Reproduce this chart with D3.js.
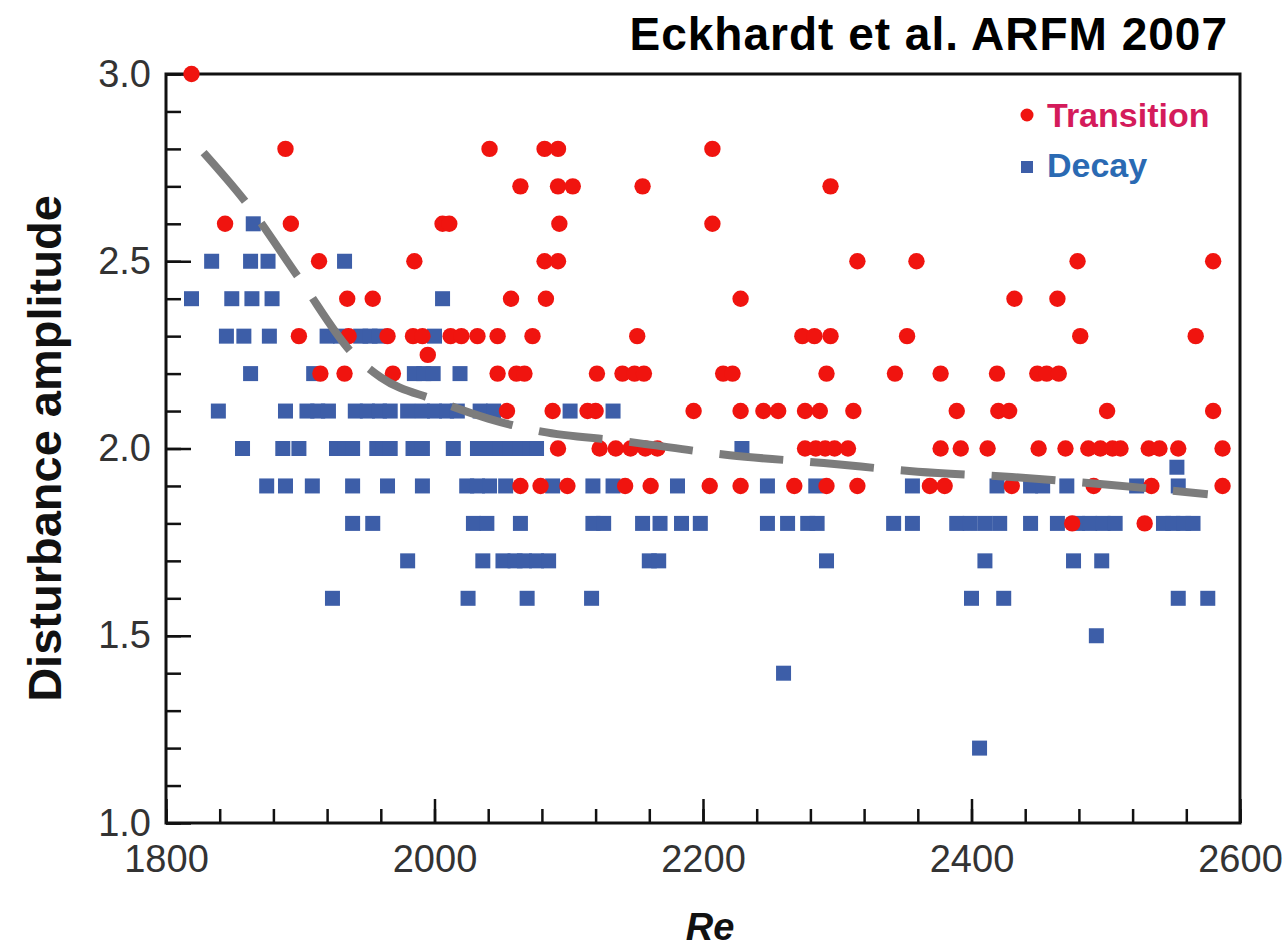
<!DOCTYPE html>
<html>
<head>
<meta charset="utf-8">
<script src="https://cdnjs.cloudflare.com/ajax/libs/d3/7.8.5/d3.min.js"></script>
<style>
  body { margin: 0; background: #fff; }
  svg { font-family: "Liberation Sans", Arial, Helvetica, sans-serif; }
</style>
</head>
<body>
<div id="chart"></div>
<script>
// points: [Re, disturbance amplitude]
var transition = [
  [1819,3.0],
  [1889,2.8],[2041,2.8],[2082,2.8],[2092,2.8],[2207,2.8],
  [2064,2.7],[2092,2.7],[2103,2.7],[2155,2.7],[2295,2.7],
  [1844,2.6],[1893,2.6],[2006,2.6],[2011,2.6],[2093,2.6],[2207,2.6],
  [1914,2.5],[1985,2.5],[2082,2.5],[2092,2.5],[2315,2.5],[2359,2.5],[2479,2.5],[2580,2.5],
  [1935,2.4],[1954,2.4],[2057,2.4],[2083,2.4],[2228,2.4],[2432,2.4],[2464,2.4],
  [1899,2.3],[1936,2.3],[1965,2.3],[1984,2.3],[1991,2.3],[2012,2.3],[2020,2.3],[2032,2.3],[2047,2.3],
  [2073,2.3],[2151,2.3],[2274,2.3],[2283,2.3],[2295,2.3],[2352,2.3],[2481,2.3],[2567,2.3],
  [1995,2.25],
  [1915,2.2],[1933,2.2],[1969,2.2],[2047,2.2],[2061,2.2],[2067,2.2],[2121,2.2],[2140,2.2],[2149,2.2],
  [2156,2.2],[2215,2.2],[2222,2.2],[2292,2.2],[2343,2.2],[2377,2.2],[2419,2.2],[2449,2.2],[2456,2.2],[2465,2.2],
  [2054,2.1],[2088,2.1],[2114,2.1],[2120,2.1],[2193,2.1],[2228,2.1],[2245,2.1],[2256,2.1],[2276,2.1],
  [2287,2.1],[2312,2.1],[2389,2.1],[2420,2.1],[2428,2.1],[2501,2.1],[2580,2.1],
  [2092,2.0],[2123,2.0],[2135,2.0],[2146,2.0],[2157,2.0],[2166,2.0],[2276,2.0],[2284,2.0],[2291,2.0],
  [2298,2.0],[2308,2.0],[2377,2.0],[2392,2.0],[2412,2.0],[2450,2.0],[2470,2.0],[2487,2.0],[2496,2.0],
  [2505,2.0],[2511,2.0],[2532,2.0],[2540,2.0],[2554,2.0],[2587,2.0],
  [2064,1.9],[2079,1.9],[2099,1.9],[2142,1.9],[2161,1.9],[2205,1.9],[2228,1.9],[2268,1.9],[2292,1.9],
  [2315,1.9],[2369,1.9],[2380,1.9],[2430,1.9],[2491,1.9],[2534,1.9],[2587,1.9],
  [2475,1.8],[2529,1.8]
];

var decay = [
  [1865,2.6],
  [1834,2.5],[1863,2.5],[1876,2.5],[1933,2.5],
  [1819,2.4],[1849,2.4],[1864,2.4],[1879,2.4],[2006,2.4],
  [1845,2.3],[1858,2.3],[1877,2.3],[1920,2.3],[1930,2.3],[1945,2.3],[1952,2.3],[1959,2.3],[2000,2.3],
  [1863,2.2],[1910,2.2],[1985,2.2],[1992,2.2],[1999,2.2],[2019,2.2],
  [1839,2.1],[1889,2.1],[1905,2.1],[1913,2.1],[1921,2.1],[1941,2.1],[1950,2.1],[1959,2.1],[1967,2.1],
  [1980,2.1],[1991,2.1],[2000,2.1],[2009,2.1],[2017,2.1],[2034,2.1],[2044,2.1],[2101,2.1],[2133,2.1],
  [1857,2.0],[1887,2.0],[1899,2.0],[1927,2.0],[1933,2.0],[1939,2.0],[1957,2.0],[1962,2.0],[1967,2.0],
  [1984,2.0],[1991,2.0],[2014,2.0],[2032,2.0],[2041,2.0],[2049,2.0],[2056,2.0],[2064,2.0],[2071,2.0],
  [2076,2.0],[2229,2.0],
  [2553,1.95],
  [1875,1.9],[1889,1.9],[1909,1.9],[1939,1.9],[1965,1.9],[1991,1.9],[2024,1.9],[2032,1.9],[2041,1.9],
  [2053,1.9],[2088,1.9],[2118,1.9],[2133,1.9],[2181,1.9],[2248,1.9],[2284,1.9],[2356,1.9],[2419,1.9],
  [2444,1.9],[2453,1.9],[2471,1.9],[2523,1.9],[2554,1.9],
  [1939,1.8],[1954,1.8],[2029,1.8],[2039,1.8],[2064,1.8],[2118,1.8],[2126,1.8],[2155,1.8],[2168,1.8],
  [2184,1.8],[2198,1.8],[2248,1.8],[2263,1.8],[2278,1.8],[2285,1.8],[2342,1.8],[2356,1.8],[2389,1.8],
  [2399,1.8],[2410,1.8],[2421,1.8],[2444,1.8],[2464,1.8],[2479,1.8],[2488,1.8],[2498,1.8],[2507,1.8],
  [2543,1.8],[2550,1.8],[2558,1.8],[2565,1.8],
  [1980,1.7],[2036,1.7],[2051,1.7],[2060,1.7],[2067,1.7],[2076,1.7],[2085,1.7],[2160,1.7],[2167,1.7],
  [2292,1.7],[2410,1.7],[2476,1.7],[2497,1.7],
  [1924,1.6],[2025,1.6],[2069,1.6],[2117,1.6],[2400,1.6],[2424,1.6],[2554,1.6],[2576,1.6],
  [2493,1.5],
  [2260,1.4],
  [2406,1.2]
];

// dashed threshold curve
var thresholdRe  = [1828, 1860, 1900, 1940, 1960, 2000, 2040, 2080, 2140, 2220, 2290, 2360, 2430, 2500, 2576];
var thresholdAmp = [2.79, 2.655, 2.45, 2.25, 2.19, 2.13, 2.08, 2.045, 2.02, 1.982, 1.961, 1.938, 1.924, 1.904, 1.878];

var xMajor = [1800, 2000, 2200, 2400, 2600];
var yMajor = [1.0, 1.5, 2.0, 2.5, 3.0];

var width = 1288, height = 950;
var plotLeft = 166, plotRight = 1240, plotTop = 74, plotBottom = 823;

var svg = d3.select('#chart').append('svg')
  .attr('width', width)
  .attr('height', height);

var x = d3.scaleLinear().domain([1800, 2600]).range([plotLeft, plotRight]);
var y = d3.scaleLinear().domain([1.0, 3.0]).range([plotBottom, plotTop]);

// minor ticks
svg.append('g')
  .attr('transform', 'translate(0,' + plotBottom + ')')
  .call(d3.axisBottom(x).tickValues(d3.range(1800, 2601, 40)).tickSize(-14).tickSizeOuter(0).tickFormat(''))
  .call(function(g) { g.select('.domain').remove(); });
svg.append('g')
  .attr('transform', 'translate(' + plotLeft + ',0)')
  .call(d3.axisLeft(y).tickValues(d3.range(10, 31).map(function(d) { return d / 10; })).tickSize(-15).tickSizeOuter(0).tickFormat(''))
  .call(function(g) { g.select('.domain').remove(); });

// major ticks with labels
var xAxis = svg.append('g')
  .attr('transform', 'translate(0,' + plotBottom + ')')
  .call(d3.axisBottom(x).tickValues(xMajor).tickSize(-24).tickSizeOuter(0).tickPadding(22).tickFormat(d3.format('d')));
var yAxis = svg.append('g')
  .attr('transform', 'translate(' + plotLeft + ',0)')
  .call(d3.axisLeft(y).tickValues(yMajor).tickSize(-25).tickSizeOuter(0).tickPadding(15).tickFormat(d3.format('.1f')));

[xAxis, yAxis].forEach(function(g) {
  g.select('.domain').remove();
  g.selectAll('text').attr('font-size', 38).attr('fill', '#333').attr('font-family', '"Liberation Sans", Arial, sans-serif');
});
svg.selectAll('.tick line').attr('stroke', '#111').attr('stroke-width', 2.5);

// frame
svg.append('rect')
  .attr('x', plotLeft).attr('y', plotTop)
  .attr('width', plotRight - plotLeft).attr('height', plotBottom - plotTop)
  .attr('fill', 'none').attr('stroke', '#111').attr('stroke-width', 3);

// points
svg.append('g').selectAll('rect')
  .data(decay)
  .enter().append('rect')
  .attr('x', function(d) { return x(d[0]) - 7.5; })
  .attr('y', function(d) { return y(d[1]) - 7.5; })
  .attr('width', 15).attr('height', 15)
  .attr('fill', '#3d5ea8');

svg.append('g').selectAll('circle')
  .data(transition)
  .enter().append('circle')
  .attr('cx', function(d) { return x(d[0]); })
  .attr('cy', function(d) { return y(d[1]); })
  .attr('r', 8.2)
  .attr('fill', '#f0140f');

// dashed curve
var line = d3.line()
  .x(function(d, i) { return x(thresholdRe[i]); })
  .y(function(d) { return y(d); })
  .curve(d3.curveMonotoneX);

svg.append('path')
  .attr('d', line(thresholdAmp))
  .attr('fill', 'none')
  .attr('stroke', '#7c7c7c')
  .attr('stroke-width', 8)
  .attr('stroke-dasharray', '64,27');

// legend
svg.append('circle').attr('cx', 1027).attr('cy', 115).attr('r', 6.5).attr('fill', '#f0140f');
svg.append('text').attr('x', 1047).attr('y', 127)
  .attr('font-size', 34).attr('font-weight', 'bold').attr('fill', '#d41b5b')
  .text('Transition');
svg.append('rect').attr('x', 1021).attr('y', 161).attr('width', 12).attr('height', 12).attr('fill', '#3d5ea8');
svg.append('text').attr('x', 1047).attr('y', 177)
  .attr('font-size', 34).attr('font-weight', 'bold').attr('fill', '#2a6ab3')
  .text('Decay');

// titles
svg.append('text')
  .attr('x', 1228).attr('y', 50)
  .attr('text-anchor', 'end')
  .attr('font-size', 46).attr('font-weight', 'bold').attr('letter-spacing', 1).attr('fill', '#000')
  .text('Eckhardt et al. ARFM 2007');

svg.append('text')
  .attr('transform', 'translate(61,' + ((plotTop + plotBottom) / 2) + ') rotate(-90)')
  .attr('text-anchor', 'middle')
  .attr('font-size', 47).attr('font-weight', 'bold').attr('fill', '#111')
  .text('Disturbance amplitude');

svg.append('text')
  .attr('x', 710).attr('y', 940)
  .attr('text-anchor', 'middle')
  .attr('font-size', 38).attr('font-weight', 'bold').attr('font-style', 'italic').attr('fill', '#111')
  .text('Re');
</script>
</body>
</html>
